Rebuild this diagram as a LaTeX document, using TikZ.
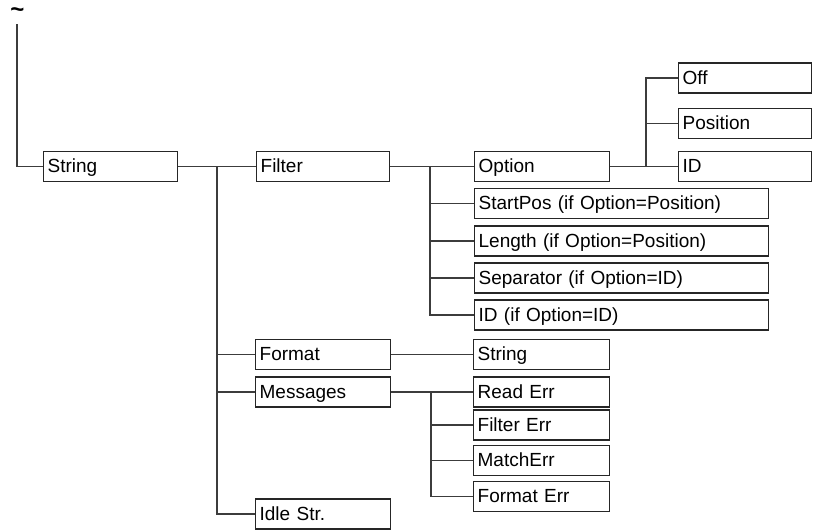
\documentclass[tikz,border=0pt]{standalone}
\usepackage{fontspec}
\setmainfont{Liberation Sans}
\definecolor{boxc}{HTML}{262626}
\definecolor{linec}{HTML}{3C3C3C}
\begin{document}
\begin{tikzpicture}[x=1pt,y=-1pt,
  box/.style={draw=boxc, line width=1.3pt, anchor=west, inner xsep=4pt, inner ysep=0pt,
    minimum height=30pt, text width=#1pt, align=left, text height=15pt, text depth=3pt,
    font=\fontsize{19}{20}\selectfont},
  conn/.style={draw=linec, line width=1.3pt}]
\useasboundingbox (0,0) rectangle (814,530);

% root marker
\node[inner sep=0pt, font=\fontsize{24}{24}\selectfont\bfseries] (tilde) at (17.5,13) {\textasciitilde};
\coordinate (top) at (17,24);

% level 1-2
\node[box=126] (string) at (43,166.5) {String};
\node[box=125] (filter) at (256,166.5) {Filter};
\node[box=127] (format) at (255,354.5) {Format};
\node[box=127] (messages) at (255,392) {Messages};
\node[box=127] (idle) at (255,514) {Idle Str.};

% filter children
\node[box=127] (option) at (474,166.5) {Option};
\node[box=286] (startpos) at (474,203.5) {StartPos (if Option=Position)};
\node[box=286] (length) at (474,241) {Length (if Option=Position)};
\node[box=286] (separator) at (474,278) {Separator (if Option=ID)};
\node[box=286] (idif) at (474,315) {ID (if Option=ID)};

% option children
\node[box=125] (off) at (678,78) {Off};
\node[box=125] (position) at (678,123.5) {Position};
\node[box=125] (ido) at (678,166.5) {ID};

% format / messages children
\node[box=128] (string2) at (473,354.5) {String};
\node[box=128] (readerr) at (473,392) {Read Err};
\node[box=128] (filtererr) at (473,425) {Filter Err};
\node[box=128] (matcherr) at (473,460.5) {MatchErr};
\node[box=128] (formaterr) at (473,496.5) {Format Err};

% junction coordinates
\coordinate (j1) at (217,166.5);
\coordinate (j2) at (430,166.5);
\coordinate (j3) at (646,166.5);
\coordinate (j4) at (431,392);

% connectors
\draw[conn] (top) |- (string.west);
\draw[conn] (string.east) -- (filter.west);
\draw[conn] (j1) |- (format.west);
\draw[conn] (j1) |- (messages.west);
\draw[conn] (j1) |- (idle.west);

\draw[conn] (filter.east) -- (option.west);
\draw[conn] (j2) |- (startpos.west);
\draw[conn] (j2) |- (length.west);
\draw[conn] (j2) |- (separator.west);
\draw[conn] (j2) |- (idif.west);

\draw[conn] (option.east) -- (ido.west);
\draw[conn] (j3) |- (off.west);
\draw[conn] (j3) |- (position.west);

\draw[conn] (format.east) -- (string2.west);
\draw[conn] (messages.east) -- (readerr.west);
\draw[conn] (j4) |- (filtererr.west);
\draw[conn] (j4) |- (matcherr.west);
\draw[conn] (j4) |- (formaterr.west);
\end{tikzpicture}
\end{document}
